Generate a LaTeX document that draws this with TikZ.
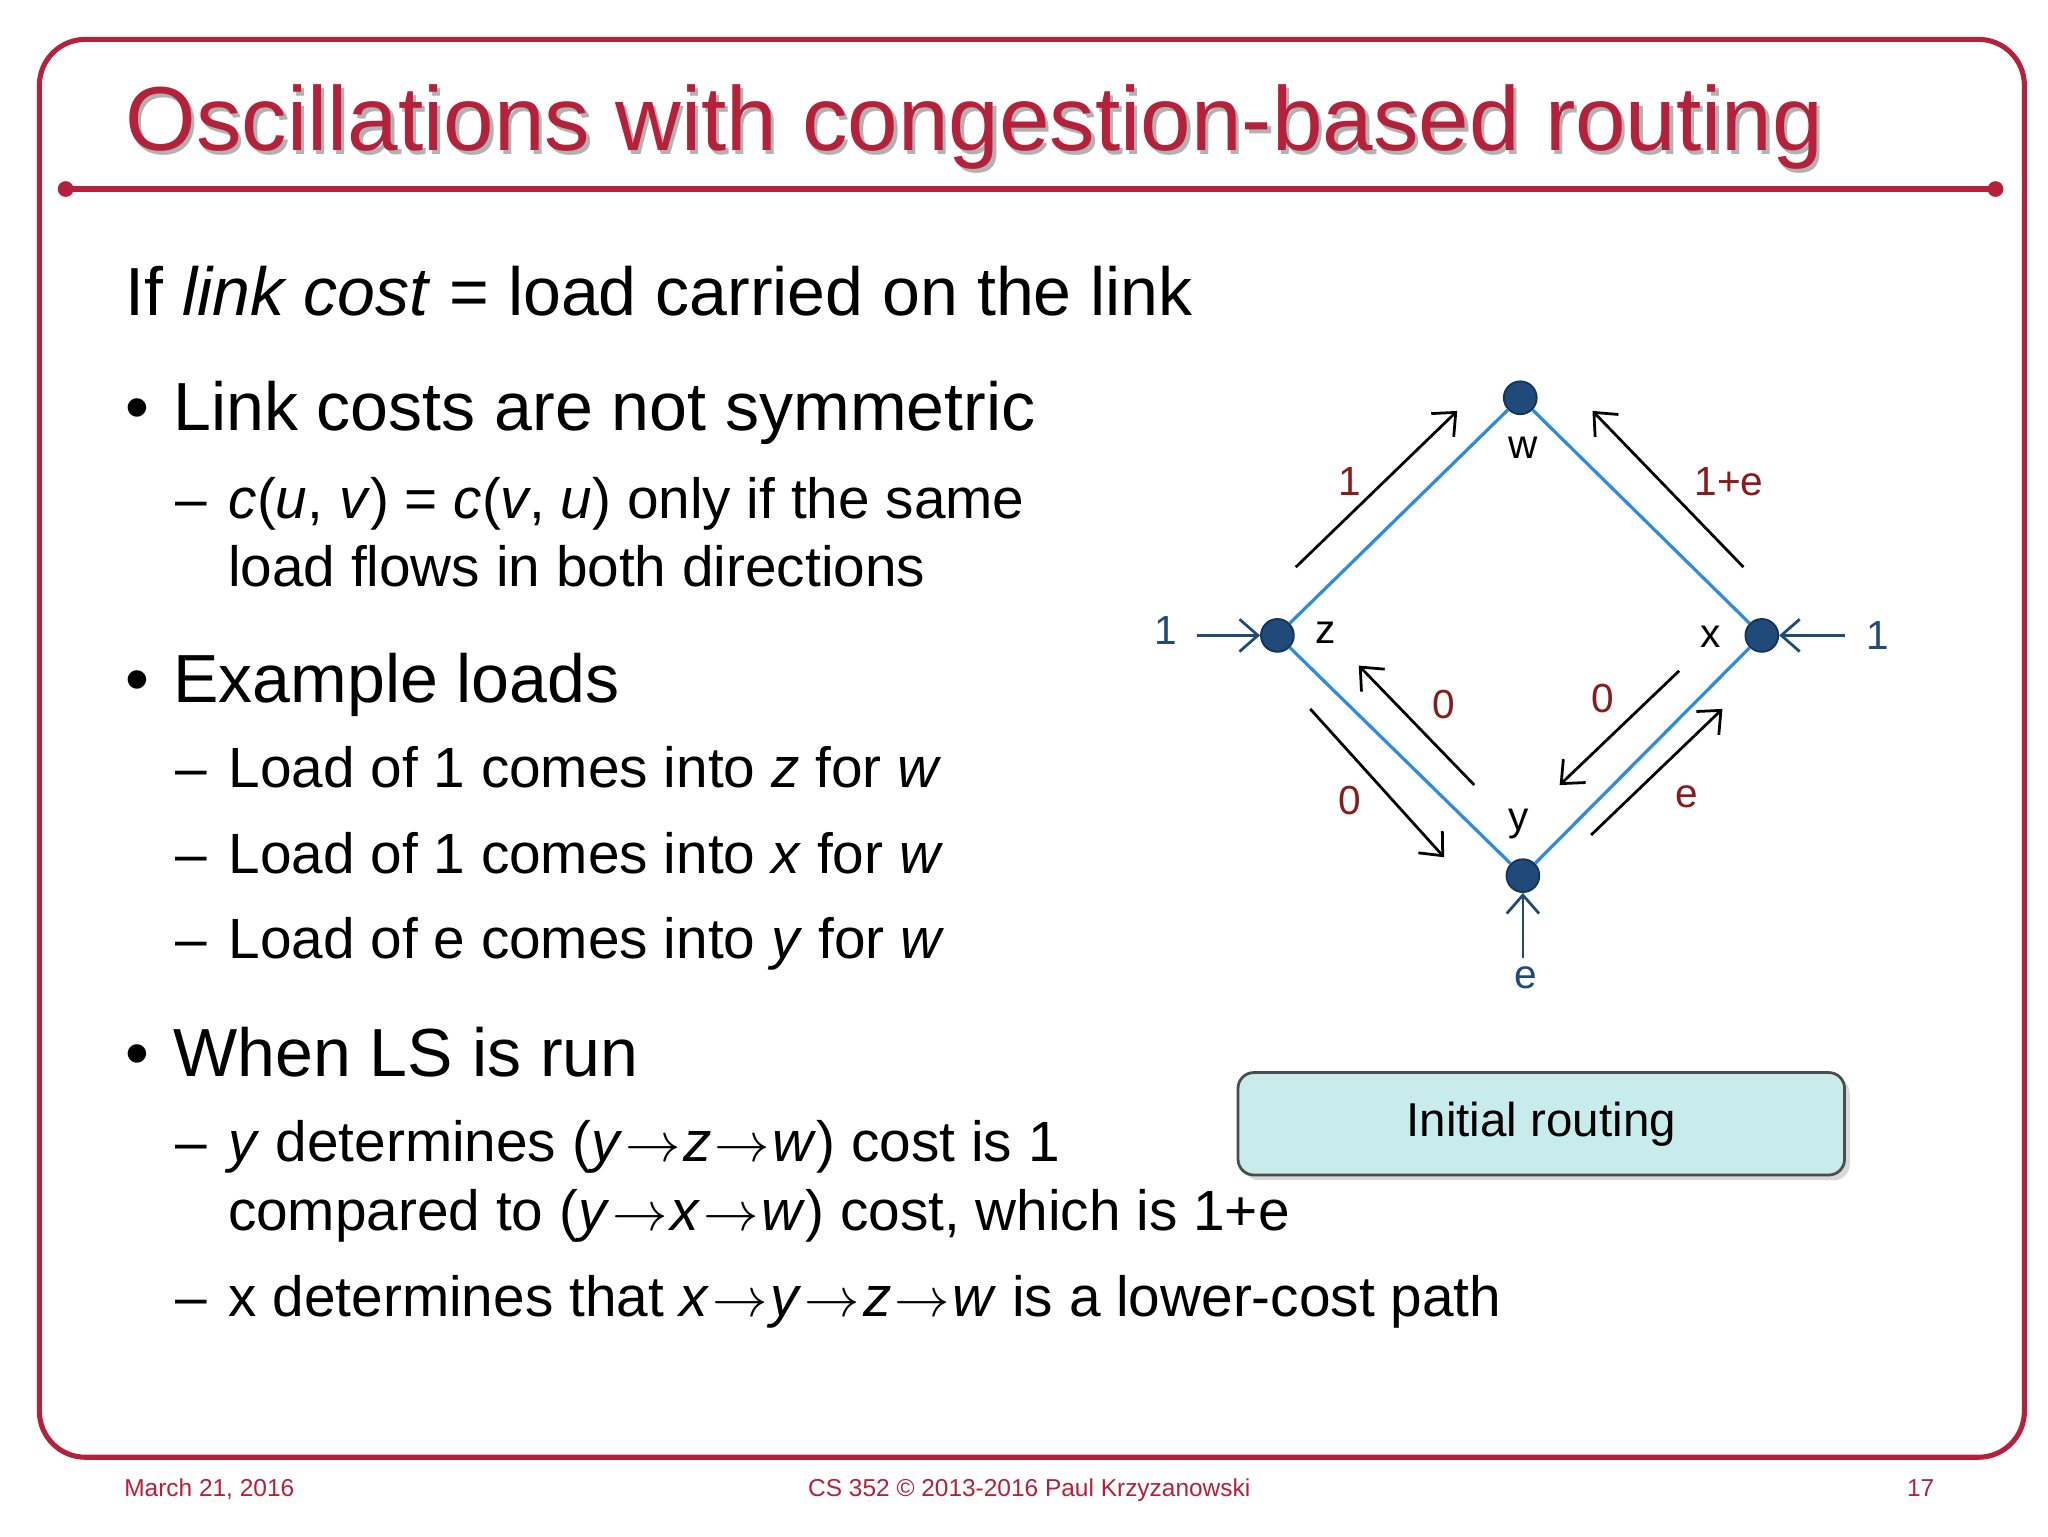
\documentclass[tikz,border=0pt]{standalone}
\usepackage{fontspec}
\setmainfont{Liberation Sans}
\usetikzlibrary{shadows,arrows.meta}
\definecolor{slidered}{HTML}{B5203A}
\definecolor{lblred}{HTML}{8B1A1A}
\definecolor{linkblue}{HTML}{2E8BE0}
\definecolor{nodeblue}{HTML}{1F4A7A}
\definecolor{boxfill}{HTML}{C8ECEC}
\newcommand{\ra}{\kern0.05em$\rightarrow$\kern0.05em}
\tikzset{
  body/.style={anchor=base west,inner sep=0,font=\fontsize{14.75}{18}\selectfont},
  sub/.style={anchor=base west,inner sep=0,font=\fontsize{12.3}{15}\selectfont},
  foot/.style={anchor=base,inner sep=0,text=slidered,font=\fontsize{5.3}{6}\selectfont},
  rt/.style={circle,fill=nodeblue,draw=nodeblue!70!black,minimum size=0.25cm,inner sep=0},
  link/.style={linkblue,line width=0.7pt},
  flow/.style={-{Straight Barb[length=4pt,width=7pt]},line width=0.6pt},
  inflow/.style={-{Straight Barb[length=4pt,width=7pt]},line width=0.6pt,nodeblue},
  nl/.style={font=\fontsize{8.8}{10}\selectfont,inner sep=0},
  fl/.style={font=\fontsize{8.8}{10}\selectfont,inner sep=0,text=lblred},
  il/.style={font=\fontsize{8.8}{10}\selectfont,inner sep=0,text=nodeblue}
}
\begin{document}
\begin{tikzpicture}
\useasboundingbox[fill=white] (0,0) rectangle (15.6,-11.7);
\draw[slidered,line width=1.1pt,rounded corners=0.35cm] (0.3,-0.3) rectangle (15.42,-11.1);
\draw[slidered,line width=1.1pt] (0.5,-1.44) -- (15.2,-1.44);
\fill[slidered] (0.5,-1.44) circle (0.06) (15.2,-1.44) circle (0.06);
\node[anchor=base west,inner sep=0,text=gray!60,font=\fontsize{19.7}{24}\selectfont] at (0.975,-1.175) {Oscillations with congestion-based routing};
\node (title) [anchor=base west,inner sep=0,text=slidered,font=\fontsize{19.7}{24}\selectfont] at (0.95,-1.15) {Oscillations with congestion-based routing};

\node[body] (l1) at (0.95,-2.4) {If \textit{link cost} = load carried on the link};
\node[body] (b1) at (0.95,-3.28) {•\hspace{0.35em}Link costs are not symmetric};
\node[sub] (s1) at (1.33,-3.95) {–\hspace{0.38em}\textit{c}(\textit{u}, \textit{v}) = \textit{c}(\textit{v}, \textit{u}) only if the same};
\node[sub] (s1b) at (1.73,-4.47) {load flows in both directions};
\node[body] (b2) at (0.95,-5.35) {•\hspace{0.35em}Example loads};
\node[sub] (s2) at (1.33,-6.0) {–\hspace{0.38em}Load of 1 comes into \textit{z} for \textit{w}};
\node[sub] (s3) at (1.33,-6.65) {–\hspace{0.38em}Load of 1 comes into \textit{x} for \textit{w}};
\node[sub] (s4) at (1.33,-7.3) {–\hspace{0.38em}Load of e comes into \textit{y} for \textit{w}};
\node[body] (b3) at (0.95,-8.2) {•\hspace{0.35em}When LS is run};
\node[sub] (s5) at (1.33,-8.85) {–\hspace{0.38em}\textit{y} determines (\textit{y}\ra\textit{z}\ra\textit{w}) cost is 1};
\node[sub] (s5b) at (1.73,-9.37) {compared to (\textit{y}\ra\textit{x}\ra\textit{w}) cost, which is 1+e};
\node[sub] (s6) at (1.33,-10.03) {–\hspace{0.38em}x determines that \textit{x}\ra\textit{y}\ra\textit{z}\ra\textit{w} is a lower-cost path};

% network
\node[rt] (w) at (11.58,-3.03) {};
\node[rt] (z) at (9.73,-4.84) {};
\node[rt] (x) at (13.42,-4.84) {};
\node[rt] (y) at (11.6,-6.67) {};
\draw[link] (w) -- (z) -- (y) -- (x) -- (w);
\node[nl] at (11.6,-3.41) {w};
\node[nl] at (10.1,-4.82) {z};
\node[nl] at (13.03,-4.85) {x};
\node[nl] at (11.57,-6.28) {y};

\coordinate (a1) at (9.87,-4.32); \coordinate (a2) at (11.1,-3.13);
\coordinate (b1) at (13.28,-4.32); \coordinate (b2) at (12.13,-3.13);
\coordinate (c1) at (9.98,-5.4); \coordinate (c2) at (11.0,-6.53);
\coordinate (d1) at (11.23,-5.98); \coordinate (d2) at (10.35,-5.07);
\coordinate (e1) at (12.79,-5.11); \coordinate (e2) at (11.88,-5.98);
\coordinate (f1) at (12.12,-6.36); \coordinate (f2) at (13.12,-5.4);
\draw[flow] (a1) -- (a2);
\draw[flow] (b1) -- (b2);
\draw[flow] (c1) -- (c2);
\draw[flow] (d1) -- (d2);
\draw[flow] (e1) -- (e2);
\draw[flow] (f1) -- (f2);
\node[fl] at (10.28,-3.67) {1};
\node[fl] at (13.17,-3.67) {1+e};
\node[fl] at (11.0,-5.37) {0};
\node[fl] at (12.21,-5.32) {0};
\node[fl] at (10.28,-6.1) {0};
\node[fl] at (12.85,-6.07) {e};

\coordinate (iz) at (9.12,-4.84);
\coordinate (ix) at (14.05,-4.84);
\coordinate (iy) at (11.6,-7.3);
\draw[inflow] (iz) -- (z);
\draw[inflow] (ix) -- (x);
\draw[inflow] (iy) -- (y);
\node[il] at (8.88,-4.8) {1};
\node[il] at (14.3,-4.84) {1};
\node[il] at (11.62,-7.45) {e};

\node[draw=black!70,line width=0.6pt,fill=boxfill,rounded corners=0.12cm,minimum width=4.62cm,minimum height=0.78cm,drop shadow={shadow xshift=0.04cm,shadow yshift=-0.04cm,opacity=0.3},font=\fontsize{10.3}{12}\selectfont] (box) at (11.74,-8.56) {Initial routing};

\node[foot,anchor=base west] (f1) at (0.94,-11.4) {March 21, 2016};
\node[foot] (f2) at (7.84,-11.4) {CS 352 © 2013-2016 Paul Krzyzanowski};
\node[foot] (f3) at (14.63,-11.4) {17};
\end{tikzpicture}
\end{document}
